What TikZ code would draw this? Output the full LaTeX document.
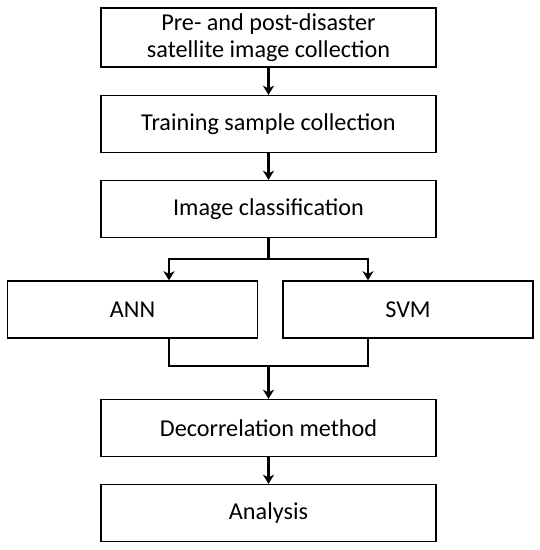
\documentclass[tikz,border=0pt]{standalone}
\usepackage{fontspec}
\setmainfont{Carlito}
\usepackage{tikz}
\usetikzlibrary{positioning,arrows.meta,calc}

\begin{document}
\begin{tikzpicture}[x=1pt,y=-1pt,
    every node/.style={font=\fontsize{24.2}{27.5}\selectfont},
    stage/.style={draw=black, line width=1.4pt, fill=white,
                  minimum width=335pt, minimum height=57pt, align=center,
                  inner sep=2pt},
    method/.style={draw=black, line width=1.4pt, fill=white,
                   minimum width=250pt, minimum height=57pt, align=center,
                   inner sep=2pt},
    link/.style={line width=2.7pt},
    arr/.style={-{Stealth[length=9pt,width=11pt,inset=2.5pt]}, line width=2.7pt}]
  \useasboundingbox (0,0) rectangle (540,550);
  \node[stage, minimum height=59pt] (img) at (268.5,37.5) {Pre- and post-disaster\\satellite image collection};
  \node[stage] (train) at (268.5,124) {Training sample collection};
  \node[stage] (cls) at (268.5,209) {Image classification};
  \node[method] (ann) at (132.5,309.5) {ANN};
  \node[method] (svm) at (408,309.5) {SVM};
  \node[stage] (decor) at (268.5,428) {Decorrelation method};
  \node[stage] (ana) at (268.5,513) {Analysis};
  % split and merge points
  \coordinate (sl) at (169,259);
  \coordinate (sr) at (368,259);
  \coordinate (ml) at (169,366);
  \coordinate (mr) at (368,366);
  \draw[arr] (img) -- (train);
  \draw[arr] (train) -- (cls);
  \draw[arr] (cls.south) |- (sl) -- (sl |- ann.north);
  \draw[arr] (cls.south) |- (sr) -- (sr |- svm.north);
  \draw[link] (ml |- ann.south) -- (ml) -- (mr) -- (mr |- svm.south);
  \draw[arr] (ml -| decor.north) -- (decor.north);
  \draw[arr] (decor) -- (ana);
\end{tikzpicture}
\end{document}
